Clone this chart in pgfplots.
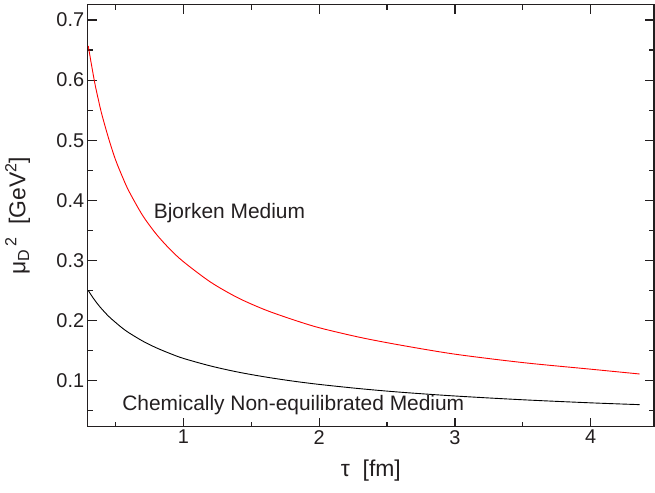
\documentclass[border=0pt]{standalone}
\usepackage{pgfplots}
\pgfplotsset{compat=1.18}
\usepackage{fontspec}
\setmainfont{Liberation Sans}
\definecolor{axgray}{RGB}{35,31,32}
\begin{document}
\begin{tikzpicture}
\useasboundingbox (-87.7bp,-66.3bp) rectangle (567.3bp,426.7bp);
\begin{axis}[
  at={(0,0)}, anchor=south west,
  scale only axis,
  width=566.3bp, height=422bp,
  xmin=0.296, xmax=4.466,
  ymin=0.0233, ymax=0.7255,
  xtick={1,2,3,4},
  ytick={0.1,0.2,0.3,0.4,0.5,0.6,0.7},
  minor xtick={0.5,1.5,2.5,3.5},
  minor ytick={0.05,0.15,0.25,0.35,0.45,0.55,0.65},
  tick align=inside,
  major tick length=9bp,
  minor tick length=5bp,
  every tick/.style={axgray, line width=1.2bp},
  axis line style={axgray, line width=1.4bp},
  /pgf/number format/assume math mode=true,
  /pgf/number format/fixed,
  /pgf/number format/precision=1,
  ticklabel style={font=\fontsize{20}{22}\selectfont, text=axgray},
  yticklabel style={/pgf/number format/fixed zerofill},
  xlabel={τ\ \ [fm]},
  ylabel={μ\textsubscript{D}\textsuperscript{\,2}\ \ [GeV\textsuperscript{2}]},
  every axis x label/.style={at={(axis description cs:0.5,0)}, anchor=north, yshift=-30bp, font=\fontsize{23}{25}\selectfont, text=axgray},
  every axis y label/.style={at={(axis description cs:0,0.5)}, anchor=south, rotate=90, yshift=54bp, font=\fontsize{23}{25}\selectfont, text=axgray},
  clip=false,
]
\addplot[red, line width=0.9bp, smooth] coordinates {
(0.3,0.657) (0.325,0.624) (0.35,0.593) (0.375,0.567) (0.4,0.543) (0.45,0.503) (0.5,0.468) (0.55,0.440) (0.6,0.415) (0.7,0.375)
(0.8,0.344) (0.9,0.319) (1.0,0.298) (1.2,0.264) (1.4,0.238) (1.6,0.218)
(1.8,0.202) (2.0,0.188) (2.3,0.172) (2.6,0.159) (3.0,0.144) (3.5,0.130)
(4.0,0.119) (4.36,0.111)
};
\addplot[black, line width=0.9bp, smooth] coordinates {
(0.3,0.2500) (0.325,0.2412) (0.35,0.2332) (0.375,0.2258) (0.4,0.2191) (0.45,0.2070)
(0.5,0.1970) (0.55,0.1876) (0.6,0.1795) (0.7,0.1659) (0.8,0.1547) (0.9,0.1453)
(1.0,0.1370) (1.2,0.1244) (1.4,0.1143) (1.6,0.1062) (1.8,0.0994) (2.0,0.0937)
(2.3,0.0866) (2.6,0.0807) (3.0,0.0744) (3.5,0.0681) (4.0,0.0630) (4.36,0.0600)
};
\node[font=\fontsize{21}{23}\selectfont, text=axgray] at (axis cs:1.34,0.378) {Bjorken Medium};
\node[font=\fontsize{21}{23}\selectfont, text=axgray] at (axis cs:1.81,0.0595) {Chemically Non-equilibrated Medium};
\end{axis}
\end{tikzpicture}
\end{document}
